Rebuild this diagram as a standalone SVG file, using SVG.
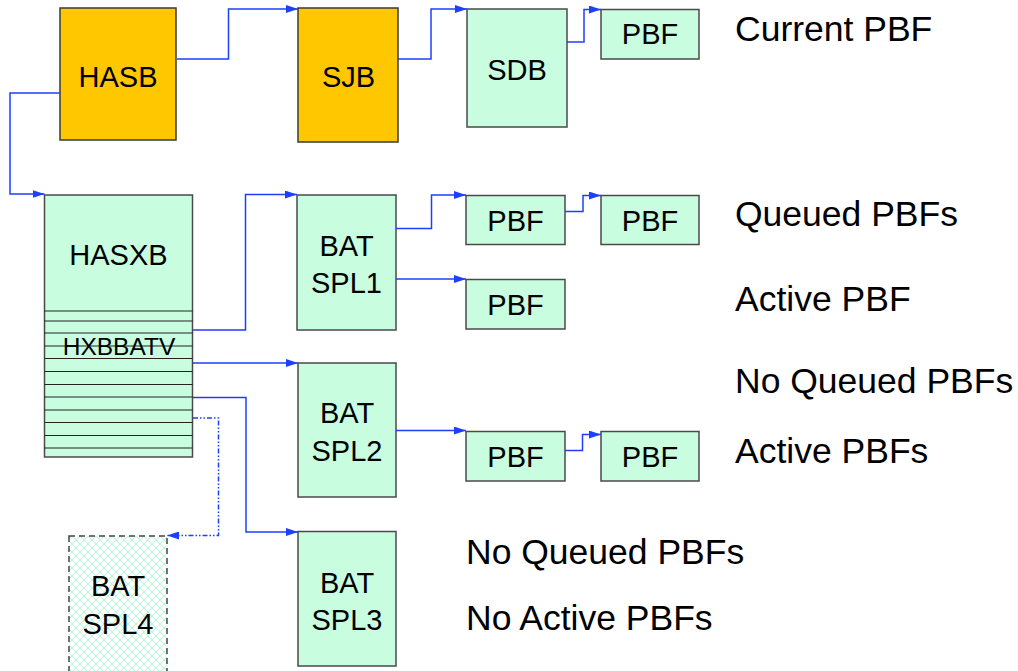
<svg xmlns="http://www.w3.org/2000/svg" width="1018" height="671" viewBox="0 0 1018 671">
<style>
.box{fill:#c8fde0;stroke:#4a4a4a;stroke-width:1.5}
.org{fill:#ffc700;stroke:#3a3a3a;stroke-width:1.5}
.lbl{font-family:"Liberation Sans",Arial,sans-serif;font-size:29px;fill:#000;text-anchor:middle}
.note{font-family:"Liberation Sans",Arial,sans-serif;font-size:35.5px;fill:#000}
.row{stroke:#222;stroke-width:1.2}
.conn path{fill:none;stroke:#1f3fff;stroke-width:1.5}
</style>
<defs>
<marker id="ah" viewBox="0 0 12 8" refX="12" refY="4" markerWidth="12" markerHeight="8" markerUnits="userSpaceOnUse" orient="auto">
<path d="M0,0 L12,4 L0,8 z" fill="#1f3fff"/>
</marker>
<pattern id="hatch" width="8" height="8" patternUnits="userSpaceOnUse">
<rect width="8" height="8" fill="#fff"/>
<path d="M0,0 L8,8 M8,0 L0,8" stroke="#b8f8d8" stroke-width="1"/>
</pattern>
</defs>
<rect width="1018" height="671" fill="#fff"/>

<g id="HASB"><rect class="org" x="60" y="8" width="116" height="132"/><text class="lbl" x="118" y="87">HASB</text></g>
<g id="SJB"><rect class="org" x="298" y="8" width="100" height="134"/><text class="lbl" x="348.5" y="87">SJB</text></g>
<g id="SDB"><rect class="box" x="467" y="9" width="100" height="118"/><text class="lbl" x="517" y="80">SDB</text></g>
<g id="PBF0"><rect class="box" x="601" y="9.5" width="98" height="49.5"/><text class="lbl" x="650" y="44">PBF</text></g>

<g id="HASXB">
<rect class="box" x="44.5" y="195" width="148" height="262"/>
<text class="lbl" x="118.5" y="265">HASXB</text>
<g class="row">
<line x1="44.5" y1="311" x2="192.5" y2="311"/>
<line x1="44.5" y1="321" x2="192.5" y2="321"/>
<line x1="44.5" y1="333" x2="192.5" y2="333"/>
<line x1="44.5" y1="346" x2="192.5" y2="346"/>
<line x1="44.5" y1="358.5" x2="192.5" y2="358.5"/>
<line x1="44.5" y1="371.5" x2="192.5" y2="371.5"/>
<line x1="44.5" y1="384.5" x2="192.5" y2="384.5"/>
<line x1="44.5" y1="397" x2="192.5" y2="397"/>
<line x1="44.5" y1="410" x2="192.5" y2="410"/>
<line x1="44.5" y1="422.5" x2="192.5" y2="422.5"/>
<line x1="44.5" y1="435.5" x2="192.5" y2="435.5"/>
<line x1="44.5" y1="448" x2="192.5" y2="448"/>
</g>
<text x="119" y="354.5" font-family="Liberation Sans,Arial,sans-serif" font-size="24.5" text-anchor="middle">HXBBATV</text>
</g>

<g id="SPL1"><rect class="box" x="297" y="195" width="99" height="135"/><text class="lbl" x="346.5" y="256">BAT</text><text class="lbl" x="346.5" y="293">SPL1</text></g>
<g id="SPL2"><rect class="box" x="298" y="363" width="98" height="134"/><text class="lbl" x="347" y="423">BAT</text><text class="lbl" x="347" y="461">SPL2</text></g>
<g id="SPL3"><rect class="box" x="298" y="531.5" width="98" height="134.5"/><text class="lbl" x="347" y="593">BAT</text><text class="lbl" x="347" y="630">SPL3</text></g>
<g id="SPL4"><rect x="69" y="536" width="98" height="140" fill="url(#hatch)" stroke="#444" stroke-width="1.5" stroke-dasharray="6 4"/><text class="lbl" x="118" y="596">BAT</text><text class="lbl" x="118" y="634">SPL4</text></g>

<g id="PBFQ1"><rect class="box" x="466" y="195.5" width="99" height="49"/><text class="lbl" x="515.5" y="231">PBF</text></g>
<g id="PBFQ2"><rect class="box" x="601" y="195.5" width="98" height="49"/><text class="lbl" x="650" y="231">PBF</text></g>
<g id="PBFA"><rect class="box" x="466" y="279.5" width="99" height="49.5"/><text class="lbl" x="515.5" y="315">PBF</text></g>
<g id="PBFA1"><rect class="box" x="466" y="431.5" width="99" height="49.5"/><text class="lbl" x="515.5" y="467">PBF</text></g>
<g id="PBFA2"><rect class="box" x="601" y="431.5" width="98" height="49.5"/><text class="lbl" x="650" y="467">PBF</text></g>

<g id="notes">
<text class="note" x="735" y="41">Current PBF</text>
<text class="note" x="735" y="226">Queued PBFs</text>
<text class="note" x="735" y="311">Active PBF</text>
<text class="note" x="735" y="393">No Queued PBFs</text>
<text class="note" x="735" y="463">Active PBFs</text>
<text class="note" x="466" y="564">No Queued PBFs</text>
<text class="note" x="466" y="630">No Active PBFs</text>
</g>

<g id="connectors" class="conn">
<path d="M177,59 H228.5 V9 H298" marker-end="url(#ah)"/>
<path d="M60,93 H10 V194 H44.5" marker-end="url(#ah)"/>
<path d="M398,59 H431 V9 H467" marker-end="url(#ah)"/>
<path d="M567,42 H584 V9.5 H601" marker-end="url(#ah)"/>
<path d="M193,330 H245.5 V194.5 H297" marker-end="url(#ah)"/>
<path d="M193,363 H298" marker-end="url(#ah)"/>
<path d="M193,397.5 H246 V532 H298" marker-end="url(#ah)"/>
<path d="M193,418 H218.5 V535.5 H167" marker-end="url(#ah)" stroke-dasharray="5 2 1.5 2 1.5 2"/>
<path d="M396,228.5 H431.5 V195 H466" marker-end="url(#ah)"/>
<path d="M565,211.5 H583 V195.5 H601" marker-end="url(#ah)"/>
<path d="M396,279 H466" marker-end="url(#ah)"/>
<path d="M396,430.5 H466" marker-end="url(#ah)"/>
<path d="M565,450.5 H582.5 V434.5 H601" marker-end="url(#ah)"/>
</g>
</svg>
